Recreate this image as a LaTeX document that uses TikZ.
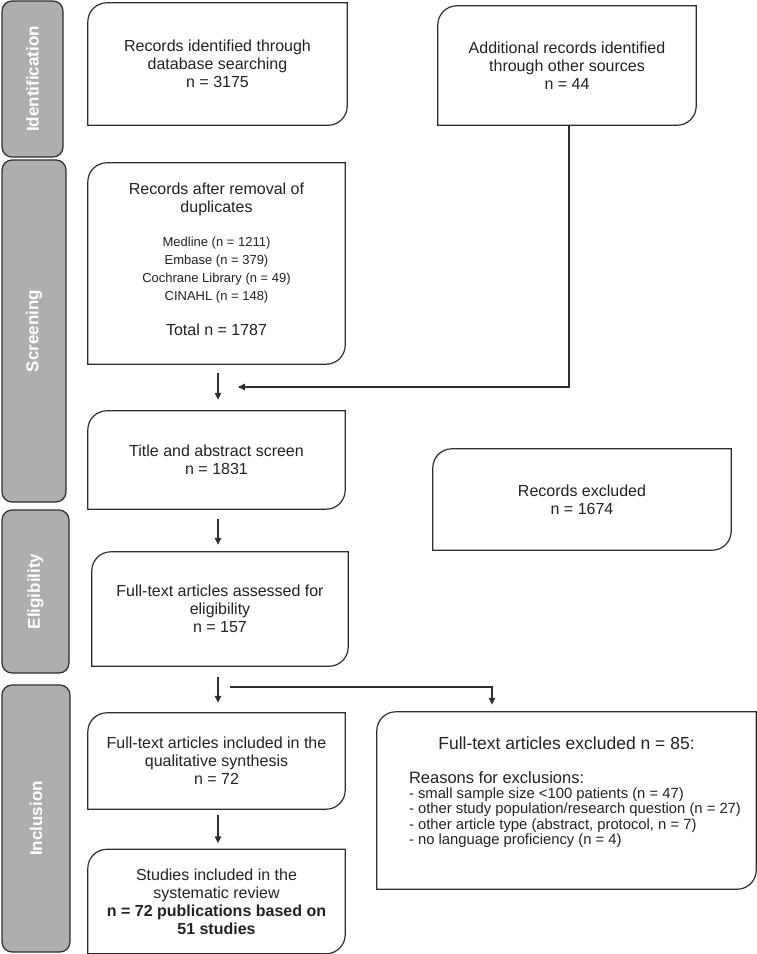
\documentclass[tikz,border=0pt]{standalone}
\usepackage{fontspec}
\setmainfont{Liberation Sans}
\usetikzlibrary{arrows.meta}
\definecolor{linec}{HTML}{2E2E2E}
\definecolor{barfill}{HTML}{AEAEAE}
\definecolor{txtc}{HTML}{222222}
\newcommand\flowoutline[1]{%
  \draw[outline] ([yshift=-19pt]#1.north west) arc[start angle=180,end angle=90,radius=19pt]
    -- (#1.north east) -- ([yshift=19pt]#1.south east)
    arc[start angle=0,end angle=-90,radius=19pt] -- (#1.south west) -- cycle;}
\newcommand\boxtext[2]{\parbox{#1}{\centering #2}}
\tikzset{
  outline/.style={draw=linec, line width=1.2pt},
  fbox/.style={inner sep=0pt, text=txtc, font=\fontsize{16}{18}\selectfont},
  stagebar/.style={draw=linec, line width=1.2pt, fill=barfill, rounded corners=10pt,
     rotate=90, inner sep=0pt, text=white, font=\bfseries\fontsize{17}{20}\selectfont},
  conn/.style={draw=linec, line width=1.2pt},
  arr/.style={conn, -{Triangle[length=7pt,width=6.5pt]}}
}
\begin{document}
\begin{tikzpicture}[x=1pt,y=1pt]
\useasboundingbox (0,0) rectangle (757,-954);
% stage bars
\node[stagebar, minimum width=156pt, minimum height=61pt] (sid) at (32.5,-79) {Identification};
\node[stagebar, minimum width=342pt, minimum height=64pt] (sscr) at (34,-331) {Screening};
\node[stagebar, minimum width=163pt, minimum height=67pt] (selig) at (35.5,-591.5) {Eligibility};
\node[stagebar, minimum width=267pt, minimum height=68pt] (sincl) at (36,-818.5) {Inclusion};
% boxes
\node[fbox, minimum width=259pt, minimum height=122pt] (b1) at (217.5,-64)
  {\boxtext{250pt}{Records identified through\\database searching\\n = 3175}};
\node[fbox, minimum width=258pt, minimum height=119pt] (b2) at (567,-65.5)
  {\boxtext{250pt}{Additional records identified\\through other sources\\n = 44}};
\node[fbox, minimum width=257pt, minimum height=201pt] (b3) at (216.5,-263.5)
  {\boxtext{250pt}{Records after removal of\\duplicates\par\vspace{16pt}
   {\fontsize{13}{18}\selectfont Medline (n = 1211)\\Embase (n = 379)\\Cochrane Library (n = 49)\\CINAHL (n = 148)\par}
   \vspace{17pt}
   Total n = 1787\rule[-8pt]{0pt}{0pt}}};
\node[fbox, minimum width=257pt, minimum height=98pt] (b4) at (216.5,-460)
  {\boxtext{250pt}{Title and abstract screen\\n = 1831}};
\node[fbox, minimum width=298pt, minimum height=101pt] (b5) at (582,-499.5)
  {\boxtext{290pt}{Records excluded\\n = 1674}};
\node[fbox, minimum width=256pt, minimum height=114pt] (b6) at (220,-609)
  {\boxtext{250pt}{Full-text articles assessed for\\eligibility\\n = 157}};
\node[fbox, minimum width=257pt, minimum height=96pt] (b7) at (216.5,-761)
  {\boxtext{250pt}{Full-text articles included in the\\qualitative synthesis\\n = 72}};
\node[fbox, minimum width=257pt, minimum height=104pt] (b8) at (216.5,-901.5)
  {\boxtext{250pt}{Studies included in the\\systematic review\\\textbf{n = 72 publications based on}\\\textbf{51 studies}}};
\node[fbox, minimum width=379pt, minimum height=177pt] (b9) at (566.5,-800.5)
  {\boxtext{379pt}{%
   {\fontsize{17.5}{20}\selectfont Full-text articles excluded n = 85:\par}%
   \vspace{14pt}%
   {\fontsize{16.5}{20}\selectfont\makebox[315pt][l]{Reasons for exclusions:}\par}%
   {\fontsize{14.8}{15.4}\selectfont
   \makebox[315pt][l]{- small sample size <100 patients (n = 47)}\par
   \makebox[315pt][l]{- other study population/research question (n = 27)}\par
   \makebox[315pt][l]{- other article type (abstract, protocol, n = 7)}\par
   \makebox[315pt][l]{- no language proficiency (n = 4)}\rule[-20pt]{0pt}{0pt}\par}}};
\foreach \b in {b1,b2,b3,b4,b5,b6,b7,b8,b9} {\flowoutline{\b}}
% connectors
\coordinate (ax) at (218,0);
\coordinate (m1) at (238,-387);
\draw[conn] ([xshift=2pt]b2.south) |- ([xshift=1pt]m1);
\draw[arr] ([xshift=2pt]m1) -- (m1);
\draw[arr] ([yshift=-9pt]b3.south -| ax) -- ([yshift=11pt]b4.north -| ax);
\draw[arr] ([yshift=-10pt]b4.south -| ax) -- ([yshift=7pt]b6.north -| ax);
\draw[arr] ([yshift=-11pt]b6.south -| ax) -- ([yshift=10pt]b7.north -| ax);
\draw[arr] ([yshift=-6pt]b7.south -| ax) -- ([yshift=6pt]b8.north -| ax);
\coordinate (m2) at (230,-687);
\draw[arr] (m2) -| ([xshift=-74.5pt,yshift=7pt]b9.north);
\end{tikzpicture}
\end{document}
